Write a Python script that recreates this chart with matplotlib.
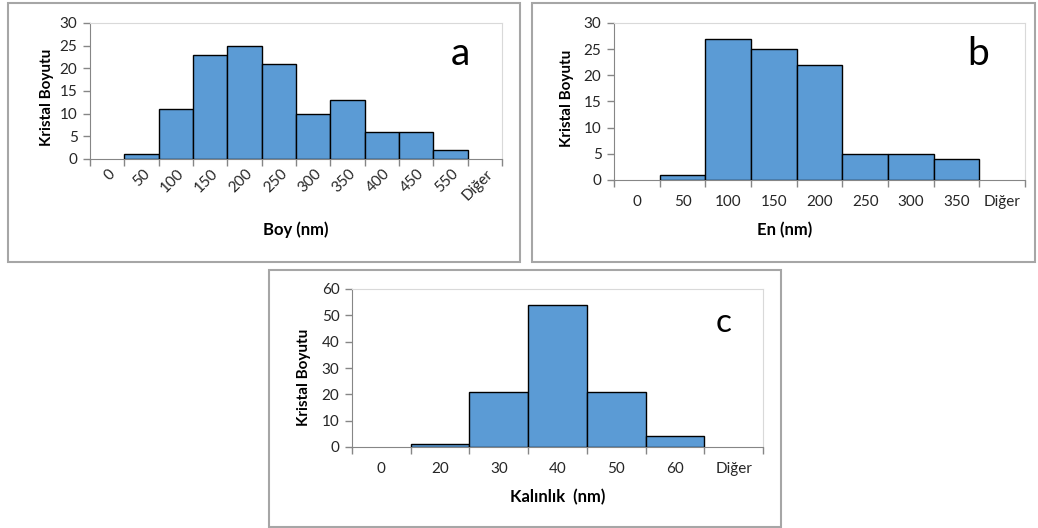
import numpy as np
import matplotlib
matplotlib.use('Agg')
import matplotlib.pyplot as plt
from matplotlib.patches import Rectangle
import matplotlib.transforms as mtransforms

plt.rcParams['font.family'] = ['Lato', 'DejaVu Sans']

# ---- data ----
boy_labels = ['0', '50', '100', '150', '200', '250', '300', '350', '400', '450', '550', 'Diğer']
boy_counts = [0, 1, 11, 23, 25, 21, 10, 13, 6, 6, 2, 0]

en_labels = ['0', '50', '100', '150', '200', '250', '300', '350', 'Diğer']
en_counts = [0, 1, 27, 25, 22, 5, 5, 4, 0]

kal_labels = ['0', '20', '30', '40', '50', '60', 'Diğer']
kal_counts = [0, 1, 21, 54, 21, 4, 0]

ylabel_text = 'Kristal Boyutu'

W, H = 1038, 528
fig = plt.figure(figsize=(W / 100, H / 100), dpi=100)

BAR = '#5B9BD5'
AXC = '#868686'
TXT = '#262626'
TICK_FS = 11


def px_axes(l, t, r, b):
    return fig.add_axes([l / W, 1 - b / H, (r - l) / W, (b - t) / H])


def frame(l, t, r, b):
    fig.patches.append(Rectangle((l / W, 1 - b / H), (r - l) / W, (b - t) / H,
                                 transform=fig.transFigure, fill=False,
                                 ec='#A6A6A6', lw=1.5))


def ftext(x, y, s, **kw):
    fig.text(x / W, 1 - y / H, s, **kw)


def setup(ax, labels, counts, ymax, ystep, rotated=False):
    n = len(labels)
    x = np.arange(n)
    lws = [1.0 if c > 0 else 0 for c in counts]
    ax.bar(x, counts, width=1.0, color=BAR, edgecolor='black', linewidth=lws, zorder=3)
    ax.set_xlim(-0.5, n - 0.5)
    ax.set_ylim(0, ymax)
    ax.set_yticks(np.arange(0, ymax + 1, ystep))
    ax.set_xticks(x)
    ax.set_xticks(np.arange(n + 1) - 0.5, minor=True)
    ax.tick_params(axis='x', which='minor', length=5, color=AXC, direction='out', width=1)
    ax.tick_params(axis='y', length=5, color=AXC, width=1, labelsize=TICK_FS, labelcolor=TXT, pad=4)
    for s in ['top', 'right']:
        ax.spines[s].set_color('#D9D9D9')
    for s in ['left', 'bottom']:
        ax.spines[s].set_color(AXC)
    if rotated:
        ax.tick_params(axis='x', which='major', length=0, pad=9, labelsize=TICK_FS, labelcolor=TXT)
        ax.set_xticklabels(labels, rotation=45, ha='right', va='center', rotation_mode='anchor')
        off = mtransforms.ScaledTranslation(6 / 100, 0, fig.dpi_scale_trans)
        for lab in ax.get_xticklabels():
            lab.set_transform(lab.get_transform() + off)
    else:
        ax.tick_params(axis='x', which='major', length=0, pad=11, labelsize=TICK_FS, labelcolor=TXT)
        ax.set_xticklabels(labels)


# panel frames
frame(8, 3, 520, 262)
frame(532, 3, 1035, 262)
frame(269, 270, 781, 527)

YL_FS = 11
XL_FS = 12

# panel a
ax_a = px_axes(90, 23, 502, 159)
setup(ax_a, boy_labels, boy_counts, 30, 5, rotated=True)
ftext(47, 97, ylabel_text, rotation=90, ha='center', va='center', fontsize=YL_FS, fontweight='bold')
ftext(296, 230, 'Boy (nm)', ha='center', va='center', fontsize=XL_FS, fontweight='bold')
ftext(460, 65, 'a', ha='center', va='baseline', fontsize=28)

# panel b
ax_b = px_axes(614, 23, 1025, 180)
setup(ax_b, en_labels, en_counts, 30, 5)
ftext(567, 98, ylabel_text, rotation=90, ha='center', va='center', fontsize=YL_FS, fontweight='bold')
ftext(785, 230, 'En (nm)', ha='center', va='center', fontsize=XL_FS, fontweight='bold')
ftext(978, 65, 'b', ha='center', va='baseline', fontsize=28)

# panel c
ax_c = px_axes(352, 289, 763, 447)
setup(ax_c, kal_labels, kal_counts, 60, 10)
ftext(304, 377, ylabel_text, rotation=90, ha='center', va='center', fontsize=YL_FS, fontweight='bold')
ftext(558, 497, 'Kalınlık  (nm)', ha='center', va='center', fontsize=XL_FS, fontweight='bold')
ftext(724, 332, 'c', ha='center', va='baseline', fontsize=24)

fig.savefig('out.png', dpi=100, facecolor='white')
